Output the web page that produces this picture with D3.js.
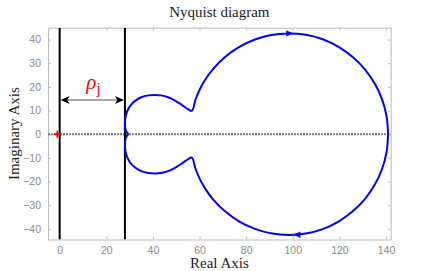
<!DOCTYPE html>
<html>
<head>
<meta charset="utf-8">
<script src="https://cdn.jsdelivr.net/npm/d3@7"></script>
<style>
  body { margin: 0; background: #fff; }
  svg { display: block; }
</style>
</head>
<body>
<div id="chart"></div>
<script>
// Parameters
var width  = 435,
    height = 271;
var margin = { top: 27.7, right: 44.3, bottom: 31.5, left: 48 };

// Nyquist curve, upper half (traversed left -> right)
var upperRe = [29.5, 28.4, 28.0, 28.2, 29.0, 30.5, 32.5, 35.0, 38.0, 41.0, 43.5, 46.5, 49.5, 52.5, 55.0, 56.7,
               58.3, 60.2, 62.5, 65.6, 70.8, 76.9, 83.5, 90.6, 98.3, 105.6, 112.8, 119.6, 125.7, 131.0, 135.2, 138.3, 140.2, 140.9];
var upperIm = [0, 1.5, 4.0, 7.0, 9.8, 12.3, 14.2, 15.6, 16.4, 16.6, 16.4, 15.6, 14.2, 12.3, 10.6, 9.9,
               14.7, 19.1, 23.1, 27.3, 32.5, 36.8, 39.9, 41.9, 42.6, 42.0, 40.1, 36.9, 32.6, 27.3, 21.3, 14.7, 7.7, 0];
// lower half (traversed right -> left)
var lowerRe = [140.9, 140.2, 138.3, 135.2, 131.0, 125.7, 119.6, 112.8, 105.6, 98.3, 90.6, 83.5, 76.9, 70.8, 65.6, 62.5, 60.2, 58.3,
               56.7, 55.0, 52.5, 49.5, 46.5, 43.5, 41.0, 38.0, 35.0, 32.5, 30.5, 29.0, 28.2, 28.0, 28.4, 29.5];
var lowerIm = [0, -7.7, -14.7, -21.3, -27.3, -32.6, -36.9, -40.1, -42.0, -42.6, -41.9, -39.9, -36.8, -32.5, -27.3, -23.1, -19.1, -14.7,
               -9.9, -10.6, -12.3, -14.2, -15.6, -16.4, -16.6, -16.4, -15.6, -14.2, -12.3, -9.8, -7.0, -4.0, -1.5, 0];

// direction arrows on the curve
var arrowRe  = [98.5, 102.0];
var arrowIm  = [42.6, -42.5];
var arrowDir = [1, -1];

// annotation
var rhoJ = 28;
var rhoArrowIm = 14.5;
var criticalPoint = [-1, 0];

// ticks
var xTicks = [0, 20, 40, 60, 80, 100, 120, 140];
var yTicks = [-40, -30, -20, -10, 0, 10, 20, 30, 40];
var xDomain = [-5, 142];
var yDomain = [-44.5, 45];

var svg = d3.select("#chart")
    .append("svg")
    .attr("width", width)
    .attr("height", height);

var x = d3.scaleLinear().domain(xDomain).range([margin.left, width - margin.right]);
var y = d3.scaleLinear().domain(yDomain).range([height - margin.bottom, margin.top]);

var defs = svg.append("defs");
defs.append("clipPath").attr("id", "clip")
    .append("rect")
    .attr("x", margin.left).attr("y", margin.top)
    .attr("width", width - margin.left - margin.right)
    .attr("height", height - margin.top - margin.bottom);

// axes (box with inward ticks, MATLAB style)
var axisColor = "#bcbcbc",
    labelColor = "#8a8a8a";

function styleAxis(g) {
  g.select(".domain").attr("stroke", axisColor).attr("stroke-width", 1);
  g.selectAll(".tick line").attr("stroke", axisColor);
  g.selectAll(".tick text")
    .attr("fill", labelColor)
    .style("font-family", "'Liberation Sans', Arial, sans-serif")
    .style("font-size", "10.5px");
}

svg.append("g")
    .attr("transform", "translate(0," + (height - margin.bottom) + ")")
    .call(d3.axisBottom(x).tickValues(xTicks).tickSizeInner(-3).tickSizeOuter(0).tickPadding(7))
    .call(styleAxis);
svg.append("g")
    .attr("transform", "translate(0," + margin.top + ")")
    .call(d3.axisTop(x).tickValues(xTicks).tickSizeInner(-3).tickSizeOuter(0).tickFormat(""))
    .call(styleAxis);
svg.append("g")
    .attr("transform", "translate(" + margin.left + ",0)")
    .call(d3.axisLeft(y).tickValues(yTicks).tickSizeInner(-3).tickSizeOuter(0).tickPadding(7))
    .call(styleAxis);
svg.append("g")
    .attr("transform", "translate(" + (width - margin.right) + ",0)")
    .call(d3.axisRight(y).tickValues(yTicks).tickSizeInner(-3).tickSizeOuter(0).tickFormat(""))
    .call(styleAxis);

var plot = svg.append("g").attr("clip-path", "url(#clip)");

// real axis dotted line
plot.append("line")
    .attr("x1", margin.left).attr("x2", width - margin.right)
    .attr("y1", y(0)).attr("y2", y(0))
    .attr("stroke", "#7a7a7a")
    .attr("stroke-width", 2)
    .attr("stroke-dasharray", "2,1");

// vertical lines at 0 and rho_j
plot.selectAll(".vline")
    .data([0, rhoJ])
    .enter()
    .append("line")
    .attr("class", "vline")
    .attr("x1", d => x(d)).attr("x2", d => x(d))
    .attr("y1", margin.top).attr("y2", height - margin.bottom)
    .attr("stroke", "#000")
    .attr("stroke-width", 2);

// nyquist curve
var curvePts = upperRe.map((d, i) => [d, upperIm[i]])
    .concat(lowerRe.map((d, i) => [d, lowerIm[i]]));
var line = d3.line()
    .x(d => x(d[0]))
    .y(d => y(d[1]))
    .curve(d3.curveCatmullRom.alpha(0.5));
plot.append("path")
    .datum(curvePts)
    .attr("d", line)
    .attr("fill", "none")
    .attr("stroke", "#0000ff")
    .attr("stroke-width", 2)
    .attr("stroke-linejoin", "round");

// direction arrowheads
plot.selectAll(".dir")
    .data(arrowRe.map((d, i) => ({ re: d, im: arrowIm[i], dir: arrowDir[i] })))
    .enter()
    .append("path")
    .attr("class", "dir")
    .attr("transform", d => "translate(" + x(d.re) + "," + y(d.im) + ")" + (d.dir < 0 ? " rotate(180)" : ""))
    .attr("d", "M4,0 L-3,-3.2 L-3,3.2 Z")
    .attr("fill", "#0000ff");

// critical point marker
plot.append("path")
    .attr("transform", "translate(" + x(criticalPoint[0]) + "," + y(criticalPoint[1]) + ")")
    .attr("d", "M-3.5,0 L3.5,0 M0,-3.5 L0,3.5")
    .attr("stroke", "#ff0000")
    .attr("stroke-width", 1.8);

// double arrow for rho_j
var ay = y(rhoArrowIm);
svg.append("line")
    .attr("x1", x(0) + 3).attr("x2", x(rhoJ) - 3)
    .attr("y1", ay).attr("y2", ay)
    .attr("stroke", "#8c8c8c")
    .attr("stroke-width", 1.5);
svg.append("path")
    .attr("transform", "translate(" + (x(0) + 1) + "," + ay + ")")
    .attr("d", "M0,0 L9,-4 L6.5,0 L9,4 Z")
    .attr("fill", "#000");
svg.append("path")
    .attr("transform", "translate(" + (x(rhoJ) - 1) + "," + ay + ")")
    .attr("d", "M0,0 L-9,-4 L-6.5,0 L-9,4 Z")
    .attr("fill", "#000");

var rho = svg.append("text")
    .attr("x", (x(0) + x(rhoJ)) / 2 - 6)
    .attr("y", ay - 11)
    .attr("fill", "#ff0000")
    .style("font-family", "'Liberation Serif', 'Times New Roman', serif");
rho.append("tspan").style("font-size", "21px").style("font-style", "italic").text("ρ");
rho.append("tspan").attr("dy", 5).attr("dx", 0.5).style("font-size", "14px")
    .style("font-family", "'Liberation Sans', Arial, sans-serif").text("j");

// title and axis labels
var serif = "'Liberation Serif', 'Times New Roman', serif";
svg.append("text")
    .attr("x", (margin.left + width - margin.right) / 2)
    .attr("y", 17)
    .attr("text-anchor", "middle")
    .style("font-family", serif).style("font-size", "15px")
    .attr("fill", "#222")
    .text("Nyquist diagram");
svg.append("text")
    .attr("x", (margin.left + width - margin.right) / 2)
    .attr("y", 268)
    .attr("text-anchor", "middle")
    .style("font-family", serif).style("font-size", "15px")
    .attr("fill", "#222")
    .text("Real Axis");
svg.append("text")
    .attr("transform", "translate(19," + ((margin.top + height - margin.bottom) / 2) + ") rotate(-90)")
    .attr("text-anchor", "middle")
    .style("font-family", serif).style("font-size", "15px")
    .attr("fill", "#222")
    .text("Imaginary Axis");
</script>
</body>
</html>
